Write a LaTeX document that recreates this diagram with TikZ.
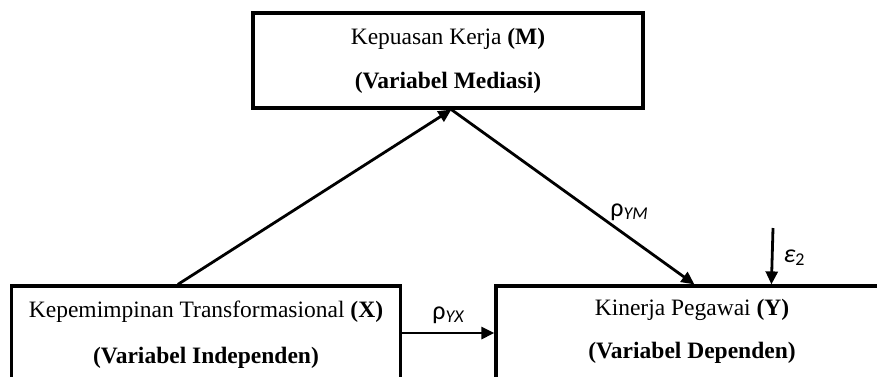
\documentclass[tikz,border=0pt]{standalone}
\usepackage{fontspec}
\setmainfont{Liberation Serif}
\newfontfamily\symfont{Carlito}
\usetikzlibrary{arrows.meta}
\begin{document}
\begin{tikzpicture}[x=1pt,y=-1pt,
  box/.style={draw,line width=3.2pt,inner sep=0pt,rectangle},
  txt/.style={inner sep=0pt,font=\fontsize{23.5}{28}\selectfont},
  lbl/.style={inner sep=0pt,font=\symfont\fontsize{26}{30}\selectfont},
  arr/.style={line width=2.8pt,-{Triangle[length=13pt,width=12pt]}}]
\useasboundingbox (0,0) rectangle (877,376);
\clip (0,0) rectangle (877,376);
\node[box,minimum width=390pt,minimum height=95pt] (M) at (448,60.5) {};
\node[box,minimum width=389pt,minimum height=94pt] (X) at (206,333) {};
\node[box,minimum width=392pt,minimum height=94pt] (Y) at (692,333) {};
\node[txt] (m1) at (448,39) {Kepuasan Kerja \textbf{(M)}};
\node[txt] (m2) at (448,83) {\textbf{(Variabel Mediasi)}};
\node[txt] (x1) at (206,312) {Kepemimpinan Transformasional \textbf{(X)}};
\node[txt] (x2) at (206,358) {\textbf{(Variabel Independen)}};
\node[txt] (y1) at (692,310) {Kinerja Pegawai \textbf{(Y)}};
\node[txt] (y2) at (692,353) {\textbf{(Variabel Dependen)}};
\coordinate (xm) at ([xshift=168pt]X.north west);
\coordinate (mb) at ([xshift=200pt]M.south west);
\coordinate (yt) at ([xshift=200pt]Y.north west);
\coordinate (e) at (773,228);
\coordinate (et) at ([xshift=277pt]Y.north west);
\draw[arr] (xm) -- (mb);
\draw[arr] (mb) -- (yt);
\draw[arr] (X.east) -- (Y.west);
\draw[arr] (e) -- (et);
\node[lbl] (pyx) at (448,315) {ρ\raisebox{-3pt}{\fontsize{18}{20}\selectfont\itshape YX}};
\node[lbl] (pym) at (629,212) {ρ\raisebox{-3pt}{\fontsize{18}{20}\selectfont\itshape YM}};
\node[lbl] (eps) at (794,258) {\itshape ε\raisebox{-3pt}{\upshape\fontsize{18}{20}\selectfont 2}};
\end{tikzpicture}
\end{document}
